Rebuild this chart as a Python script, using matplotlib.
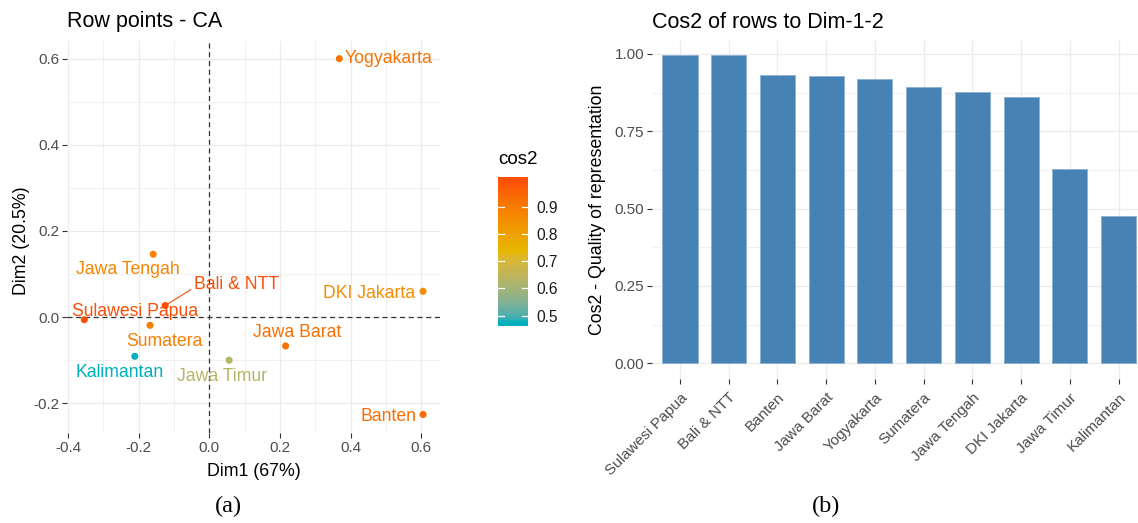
import numpy as np
import matplotlib
matplotlib.use("Agg")
import matplotlib.pyplot as plt
import matplotlib.colors as mcolors
from matplotlib.ticker import MultipleLocator

plt.rcParams['font.family'] = ['Liberation Sans', 'DejaVu Sans']

# row coordinates on the first two CA dimensions
regions = ['Yogyakarta', 'Jawa Tengah', 'Bali & NTT', 'Sulawesi Papua', 'Sumatera',
           'Kalimantan', 'Jawa Timur', 'Jawa Barat', 'DKI Jakarta', 'Banten']
dim1 = [0.368, -0.159, -0.125, -0.354, -0.168, -0.211, 0.056, 0.216, 0.605, 0.605]
dim2 = [0.600, 0.146, 0.027, -0.006, -0.019, -0.091, -0.100, -0.067, 0.060, -0.226]

# cos2 on Dim-1-2, already sorted for the bar chart
bar_regions = ['Sulawesi Papua', 'Bali & NTT', 'Banten', 'Jawa Barat', 'Yogyakarta',
               'Sumatera', 'Jawa Tengah', 'DKI Jakarta', 'Jawa Timur', 'Kalimantan']
bar_cos2 = [0.995, 0.995, 0.931, 0.930, 0.918, 0.892, 0.876, 0.860, 0.627, 0.476]

# label offsets in pixels (dx, dy, ha)
label_offsets = {
    'Yogyakarta': (5, 0, 'left'),
    'Jawa Tengah': (-25, -15, 'center'),
    'Bali & NTT': (71, 21, 'center'),
    'Sulawesi Papua': (51, 8, 'center'),
    'Sumatera': (14, -16, 'center'),
    'Kalimantan': (-15, -16, 'center'),
    'Jawa Timur': (-7, -16, 'center'),
    'Jawa Barat': (12, 13, 'center'),
    'DKI Jakarta': (-8, -2, 'right'),
    'Banten': (-7, -2, 'right'),
}

GRID = '#EBEBEB'
TXT = '#4D4D4D'


def hex_to_lab(h):
    rgb = np.array(mcolors.to_rgb(h))
    lin = np.where(rgb <= 0.04045, rgb / 12.92, ((rgb + 0.055) / 1.055) ** 2.4)
    M = np.array([[0.4124, 0.3576, 0.1805], [0.2126, 0.7152, 0.0722], [0.0193, 0.1192, 0.9505]])
    xyz = M @ lin / np.array([0.95047, 1.0, 1.08883])
    d = 6 / 29
    f = np.where(xyz > d ** 3, np.cbrt(xyz), xyz / (3 * d ** 2) + 4 / 29)
    return np.array([116 * f[1] - 16, 500 * (f[0] - f[1]), 200 * (f[1] - f[2])])


def lab_to_rgb(lab):
    L, a, b = lab
    fy = (L + 16) / 116
    fx = fy + a / 500
    fz = fy - b / 200
    d = 6 / 29
    f = np.array([fx, fy, fz])
    xyz = np.where(f > d, f ** 3, 3 * d ** 2 * (f - 4 / 29)) * np.array([0.95047, 1.0, 1.08883])
    Minv = np.array([[3.2406, -1.5372, -0.4986], [-0.9689, 1.8758, 0.0415], [0.0557, -0.2040, 1.0570]])
    lin = Minv @ xyz
    rgb = np.where(lin <= 0.0031308, 12.92 * lin, 1.055 * np.clip(lin, 0, None) ** (1 / 2.4) - 0.055)
    return np.clip(rgb, 0, 1)


# gradient interpolated in Lab like ggplot's gradientn
stops = [hex_to_lab(c) for c in ['#00AFBB', '#E7B800', '#FC4E07']]
cols = []
for t in np.linspace(0, 1, 256):
    seg = min(int(t * 2), 1)
    u = t * 2 - seg
    cols.append(lab_to_rgb(stops[seg] * (1 - u) + stops[seg + 1] * u))
cmap = mcolors.ListedColormap(cols)

cos2_of = dict(zip(bar_regions, bar_cos2))
point_cos2 = [cos2_of[r] for r in regions]
vmin, vmax = min(bar_cos2), max(bar_cos2)
norm = mcolors.Normalize(vmin, vmax)

fig = plt.figure(figsize=(11.38, 5.23), dpi=100)

# ---- (a) row points ----
ax = fig.add_axes([67 / 1138, 1 - 433 / 523, 373 / 1138, 392 / 523])
ax.set_xlim(-0.403, 0.653)
ax.set_ylim(-0.269, 0.641)
ax.xaxis.set_major_locator(MultipleLocator(0.2))
ax.xaxis.set_minor_locator(MultipleLocator(0.1))
ax.yaxis.set_major_locator(MultipleLocator(0.2))
ax.yaxis.set_minor_locator(MultipleLocator(0.1))
ax.grid(which='major', color=GRID, lw=0.9)
ax.grid(which='minor', color=GRID, lw=0.5)
ax.set_axisbelow(True)
for s in ax.spines.values():
    s.set_visible(False)
ax.tick_params(which='major', length=3.5, width=0.8, color='#333333', labelsize=11,
               labelcolor=TXT, pad=2)
ax.tick_params(which='minor', length=0)
ax.xaxis.set_major_formatter(lambda v, p: f'{v:.1f}')
ax.yaxis.set_major_formatter(lambda v, p: f'{v:.1f}')

ax.axvline(0, color='#333333', ls=(0, (4, 3)), lw=0.9, zorder=1)
ax.axhline(0, color='#333333', ls=(0, (4, 3)), lw=0.9, zorder=1)

pcols = cmap(norm(point_cos2))
ax.scatter(dim1, dim2, c=pcols, s=26, zorder=3, linewidths=0)
for name, x, y, col in zip(regions, dim1, dim2, pcols):
    dx, dy, ha = label_offsets[name]
    arrow = None
    if name == 'Bali & NTT':
        arrow = dict(arrowstyle='-', color=col, lw=0.8, shrinkA=0, shrinkB=2,
                     relpos=(0.0, 0.3))
    ax.annotate(name, (x, y), xytext=(dx, dy), textcoords='offset pixels',
                ha=ha, va='center', fontsize=12.7, color=col, zorder=4,
                arrowprops=arrow)

ax.text(0, (433 - 21.7) / 392, 'Row points - CA', transform=ax.transAxes,
        fontsize=15.5, ha='left', va='center')
ax.set_xlabel('Dim1 (67%)', fontsize=12.8)
ax.xaxis.set_label_coords(0.5, (433 - 471.7) / 392)
ax.xaxis.label.set_va('center')
ax.set_ylabel('Dim2 (20.5%)', fontsize=12.8)
ax.yaxis.set_label_coords((22 - 67) / 373, 0.49)
ax.yaxis.label.set_va('center')

# colour legend
cax = fig.add_axes([498 / 1138, 1 - 326 / 523, 30 / 1138, 149 / 523])
ext = 0.5 / 19 * (vmax - vmin)
lo, hi = vmin - ext, vmax + ext
grad = np.linspace(lo, hi, 256).reshape(-1, 1)
cax.imshow(cmap(norm(np.clip(grad, vmin, vmax)))[:, :, :3], aspect='auto', origin='lower',
           extent=[0, 1, lo, hi])
cax.set_xlim(0, 1)
cax.set_ylim(lo, hi)
cax.set_xticks([])
cb_ticks = [0.5, 0.6, 0.7, 0.8, 0.9]
for t in cb_ticks:
    cax.plot([0, 0.2], [t, t], color='white', lw=0.9)
    cax.plot([0.8, 1], [t, t], color='white', lw=0.9)
cax.yaxis.tick_right()
cax.set_yticks(cb_ticks)
cax.set_yticklabels([f'{t:.1f}' for t in cb_ticks])
cax.tick_params(length=0, labelsize=11.2, pad=6, labelcolor='#1A1A1A')
for s in cax.spines.values():
    s.set_visible(False)
cax.text(0, 1 + (177 - 160) / 149, 'cos2', transform=cax.transAxes, fontsize=13.5,
         ha='left', va='center')

# ---- (b) cos2 bars ----
bx = fig.add_axes([651.7 / 1138, 1 - 378.7 / 523, 486.3 / 1138, 338.7 / 523])
xpos = np.arange(len(bar_regions))
bx.bar(xpos, bar_cos2, width=0.72, color='#4682B4', edgecolor='#8CB0D3', lw=0.6, zorder=2)
bx.set_xlim(-0.58, 9.4)
bx.set_ylim(-0.05, 1.045)
bx.yaxis.set_major_locator(MultipleLocator(0.25))
bx.yaxis.set_minor_locator(MultipleLocator(0.125))
bx.set_xticks(xpos)
bx.set_xticklabels(bar_regions, rotation=45, ha='right', va='top', rotation_mode='anchor')
bx.yaxis.set_major_formatter(lambda v, p: f'{v:.2f}')
bx.grid(which='major', color=GRID, lw=0.9)
bx.grid(which='minor', axis='y', color=GRID, lw=0.5)
bx.set_axisbelow(True)
for s in bx.spines.values():
    s.set_visible(False)
bx.tick_params(which='major', length=3.5, width=0.8, color='#333333', labelsize=11,
               labelcolor=TXT, pad=2)
bx.tick_params(axis='x', pad=5)
bx.tick_params(which='minor', length=0)
bx.text(0, (378.7 - 22) / 338.7, 'Cos2 of rows to Dim-1-2', transform=bx.transAxes,
        fontsize=15.5, ha='left', va='center')
bx.set_ylabel('Cos2 - Quality of representation', fontsize=12.8)
bx.yaxis.set_label_coords((597 - 651.7) / 486.3, 0.5)
bx.yaxis.label.set_va('center')

# panel captions
fig.text(228.7 / 1138, 1 - 506.7 / 523, '(a)', family='Liberation Serif', fontsize=17.5,
         ha='center', va='center')
fig.text(826 / 1138, 1 - 506.7 / 523, '(b)', family='Liberation Serif', fontsize=17.5,
         ha='center', va='center')

fig.savefig('out.png', dpi=100)
